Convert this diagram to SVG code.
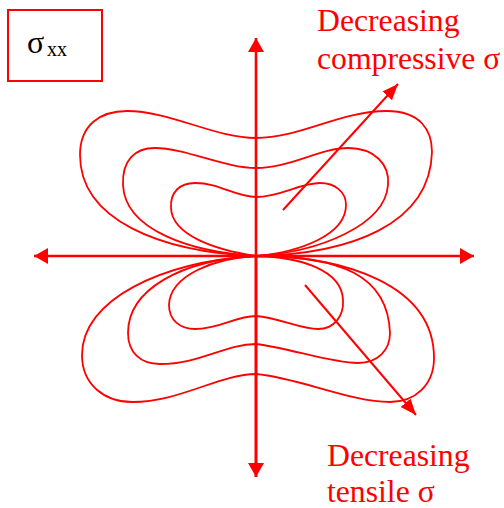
<svg xmlns="http://www.w3.org/2000/svg" width="504" height="508" viewBox="0 0 504 508">
<style>
.ax{stroke:#FF0000;stroke-width:2.6;fill:none}
.cv{stroke:#FF0000;stroke-width:1.8;fill:none}
.ar{stroke:#FF0000;stroke-width:2;fill:none}
.lbl{font-family:"Liberation Serif","Times New Roman",serif;font-size:31.7px;fill:#FF0000}
.sym{font-family:"Liberation Serif","Times New Roman",serif;fill:#000}
</style>
<defs>
<marker id="ah" markerUnits="userSpaceOnUse" markerWidth="16" markerHeight="18" refX="14" refY="8" orient="auto">
<path d="M0,0 L14,8 L0,16 Z" fill="#FF0000"/>
</marker>
<marker id="ah2" markerUnits="userSpaceOnUse" markerWidth="18" markerHeight="14" refX="16" refY="6.5" orient="auto">
<path d="M0,0 L16,6.5 L0,13 Z" fill="#FF0000"/>
</marker>
</defs>
<g id="legend">
<rect x="8" y="10" width="94" height="71" fill="#fff" stroke="#FF0000" stroke-width="2"/>
<text class="sym" x="27" y="53" font-size="32">σ</text>
<text class="sym" x="47" y="56" font-size="20">xx</text>
</g>
<g id="connectors">
<line id="axis-y" class="ax" x1="256" y1="477" x2="256" y2="38" marker-end="url(#ah)"/>
<line id="axis-y-down" class="ax" x1="256" y1="256" x2="256" y2="477" marker-end="url(#ah)"/>
<line id="axis-x" class="ax" x1="256" y1="256" x2="474" y2="256" marker-end="url(#ah)"/>
<line id="axis-x-left" class="ax" x1="256" y1="256" x2="34" y2="256" marker-end="url(#ah)"/>
<line id="arrow-compressive" class="ar" x1="283" y1="210" x2="398" y2="84" marker-end="url(#ah2)"/>
<line id="arrow-tensile" class="ar" x1="305" y1="285" x2="416" y2="415" marker-end="url(#ah2)"/>
</g>
<g id="contours-upper">
<path class="cv" d="M256,256 C160,252 80,220 80,155 C80,125 100,111 127,111 C170,111 215,138 256,138 C300,138 340,111 387,111 C420,111 432,130 432,152 C430,225 350,254 256,256 Z"/>
<path class="cv" d="M256,256 C190,252 125,230 123,185 C122,160 135,148 155,148 C185,148 225,168 256,168 C290,168 320,148 348,148 C375,148 390,165 388,185 C385,225 320,252 256,256 Z"/>
<path class="cv" d="M256,256 C215,250 172,235 171,208 C170,192 180,183 195,183 C220,183 235,197 256,197 C280,197 300,183 320,183 C335,183 346,192 346,205 C346,235 300,252 256,256 Z"/>
</g>
<g id="contours-lower">
<path class="cv" d="M256,256 C215,258 170,275 169,305 C169,320 180,329 195,329 C220,329 235,316 256,316 C280,318 300,329 318,329 C335,329 344,315 343,300 C342,270 300,257 256,256 Z"/>
<path class="cv" d="M256,256 C180,260 128,290 128,333 C128,352 140,364 160,364 C200,364 225,344 256,344 C290,348 330,363 358,363 C378,363 390,350 390,333 C388,275 340,256 256,256 Z"/>
<path class="cv" d="M256,256 C160,262 82,300 82,355 C82,385 105,402 132,402 C180,402 220,374 256,374 C300,378 350,402 390,402 C415,402 434,385 434,358 C434,285 345,256 256,256 Z"/>
</g>
<g id="label-compressive">
<text class="lbl" x="317" y="31">Decreasing</text>
<text class="lbl" x="317" y="69">compressive σ</text>
</g>
<g id="label-tensile">
<text class="lbl" x="327" y="466">Decreasing</text>
<text class="lbl" x="327" y="502">tensile σ</text>
</g>
</svg>
